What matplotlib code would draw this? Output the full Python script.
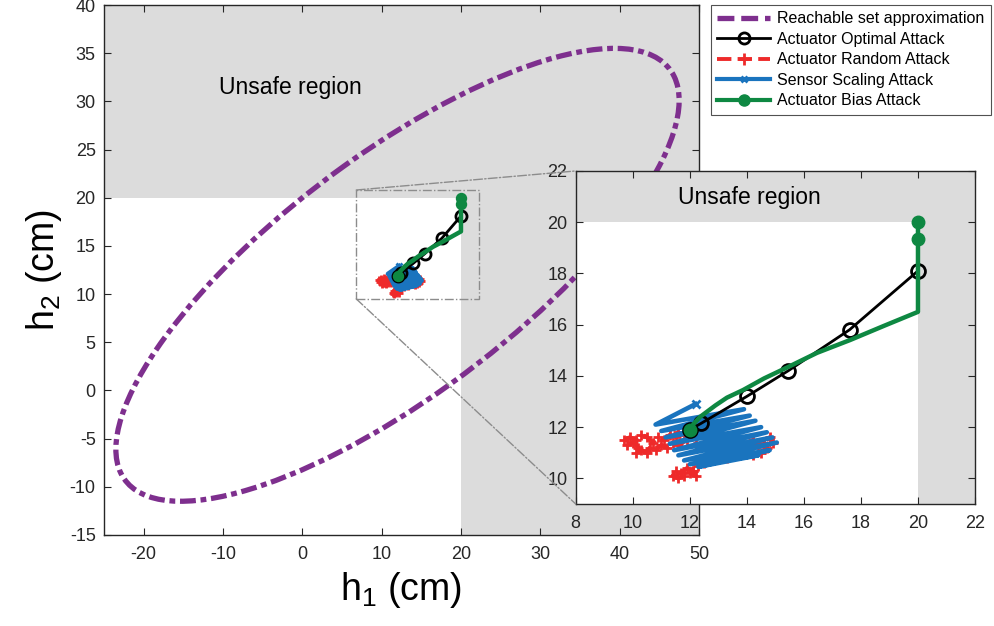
import numpy as np
import matplotlib.pyplot as plt
from matplotlib.patches import Ellipse, Rectangle, ConnectionPatch
from matplotlib.lines import Line2D

plt.rcParams['font.family'] = ['Liberation Sans', 'DejaVu Sans']
plt.rcParams['axes.unicode_minus'] = False

# safety limit (cm) for both tanks
h_max = 20

# reachable set ellipse: centre, half extents along h1/h2, correlation
ell_center = (12.0, 12.0)
ell_half_x = 35.5
ell_half_y = 23.5
ell_corr = 0.77

# actuator optimal attack
opt_x = [12.0, 12.4, 14.0, 15.45, 17.6, 20.0]
opt_y = [11.9, 12.15, 13.2, 14.2, 15.8, 18.1]

# actuator bias attack
bias_x = [12.0, 12.15, 12.36, 12.9, 13.3, 13.87, 14.6, 15.45, 16.46, 17.62, 18.8, 20.0, 20.0, 20.0]
bias_y = [11.9, 12.15, 12.4, 12.85, 13.15, 13.45, 13.9, 14.35, 14.9, 15.4, 15.95, 16.5, 19.35, 20.0]
bias_marks = [0, 12, 13]

# sensor scaling attack
scal_x = [12.2, 10.8, 13.9, 11.0, 14.1, 11.15, 14.3, 11.3, 14.5, 11.45, 14.7, 11.6,
          14.9, 11.8, 15.05, 12.0, 14.8, 12.3, 14.4, 12.6]
scal_y = [12.9, 12.1, 12.7, 11.85, 12.45, 11.6, 12.25, 11.35, 12.0, 11.1, 11.8, 10.9,
          11.6, 10.7, 11.4, 10.55, 11.1, 10.45, 10.9, 10.6]

# actuator random attack
rand_x = [12.0, 11.8, 11.6, 11.5, 11.3, 11.1, 10.9, 10.7, 10.5, 10.3, 10.1, 9.9, 9.7, 9.8,
          10.0, 10.2, 10.1, 10.3, 10.5, 10.6, 10.8, 11.0, 11.2, 11.4, 11.6, 11.9, 12.2, 12.5,
          12.8, 13.0, 13.2, 13.5, 13.7, 14.0, 14.2, 14.5, 14.7, 14.9, 14.8, 14.6, 14.4, 14.2,
          14.0, 13.8, 13.5, 13.3, 13.0, 12.8, 12.6, 12.5, 12.3, 12.1, 11.9, 11.7, 11.5, 11.4,
          11.6, 11.8, 12.0, 12.2, 12.1]
rand_y = [11.9, 11.7, 11.8, 11.6, 11.7, 11.5, 11.6, 11.4, 11.6, 11.7, 11.5, 11.6, 11.5, 11.3,
          11.4, 11.2, 11.0, 11.1, 11.0, 11.2, 11.1, 11.3, 11.2, 11.4, 11.3, 11.5, 11.3, 11.4,
          11.2, 11.3, 11.1, 11.2, 11.0, 11.1, 10.9, 11.0, 11.2, 11.4, 11.6, 11.4, 11.3, 11.5,
          11.3, 11.4, 11.0, 10.8, 10.9, 10.7, 10.8, 10.6, 10.5, 10.3, 10.4, 10.2, 10.3, 10.1,
          10.0, 10.1, 10.2, 10.1, 10.3]

main_xlim = (-25, 50)
main_ylim = (-15, 40)
ins_xlim = (8, 22)
ins_ylim = (9, 22)
zoom_box = (6.8, 9.5, 22.3, 20.8)

purple = '#7E2F8E'
red = '#EE2A2A'
blue = '#1A74BE'
green = '#0E8842'
grey = '#DCDCDC'


def draw_unsafe(ax, xlim, ylim):
    ax.add_patch(Rectangle((xlim[0], h_max), xlim[1] - xlim[0], ylim[1] - h_max,
                           facecolor=grey, edgecolor='none', zorder=0))
    ax.add_patch(Rectangle((h_max, ylim[0]), xlim[1] - h_max, h_max - ylim[0],
                           facecolor=grey, edgecolor='none', zorder=0))


def draw_traj(ax, ms):
    ax.plot(rand_x, rand_y, '--', color=red, lw=3, marker='+', ms=ms * 0.7, mew=2)
    ax.plot(scal_x, scal_y, '-', color=blue, lw=3.3, marker='x', ms=ms * 0.6, mew=2,
            markevery=[0])
    ax.plot(opt_x, opt_y, '-', color='black', lw=2, marker='o', ms=ms,
            mfc='none', mew=2)
    ax.plot(bias_x, bias_y, '-', color=green, lw=3.2, marker='o', ms=ms * 0.9,
            markevery=bias_marks)


def style(ax, xlim, ylim, xt, yt):
    ax.set_xlim(*xlim)
    ax.set_ylim(*ylim)
    ax.set_xticks(xt)
    ax.set_yticks(yt)
    ax.tick_params(direction='in', top=True, right=True, labelsize=13,
                   length=5, width=0.8, colors='#262626')
    ax.tick_params(axis='x', pad=8)
    ax.tick_params(axis='y', pad=6)
    for s in ax.spines.values():
        s.set_linewidth(1.0)
        s.set_color('#262626')


fig = plt.figure(figsize=(9.94, 6.26), dpi=100)
ax = fig.add_axes([0.1046, 0.1454, 0.5986, 0.8466])

draw_unsafe(ax, main_xlim, main_ylim)

# ellipse from its extents
cov = np.array([[ell_half_x ** 2, ell_corr * ell_half_x * ell_half_y],
                [ell_corr * ell_half_x * ell_half_y, ell_half_y ** 2]])
vals, vecs = np.linalg.eigh(cov)
ang = np.degrees(np.arctan2(vecs[1, 1], vecs[0, 1]))
ax.add_patch(Ellipse(ell_center, 2 * np.sqrt(vals[1]), 2 * np.sqrt(vals[0]), angle=ang,
                     fill=False, edgecolor=purple, lw=3.8,
                     linestyle=(0, (3, 0.9, 1.1, 0.9))))

draw_traj(ax, 8)
ax.text(-1.5, 31.4, 'Unsafe region', fontsize=16.5, ha='center', va='center')

ax.add_patch(Rectangle((zoom_box[0], zoom_box[1]), zoom_box[2] - zoom_box[0],
                       zoom_box[3] - zoom_box[1], fill=False, edgecolor='#8C8C8C',
                       lw=1, linestyle='-.', zorder=5))

style(ax, main_xlim, main_ylim, np.arange(-20, 51, 10), np.arange(-15, 41, 5))
ax.set_xlabel('h$_\\mathregular{1}$ (cm)', fontsize=27, labelpad=5)
ax.set_ylabel('h$_\\mathregular{2}$ (cm)', fontsize=27, labelpad=4)

# inset zoom
ins = fig.add_axes([0.5792, 0.1949, 0.4017, 0.532])
draw_unsafe(ins, ins_xlim, ins_ylim)
draw_traj(ins, 10)
ins.text(14.1, 20.95, 'Unsafe region', fontsize=16.5, ha='center', va='center')
style(ins, ins_xlim, ins_ylim, np.arange(8, 23, 2), np.arange(10, 23, 2))

for ya, yb in [(zoom_box[3], 1), (zoom_box[1], 0)]:
    con = ConnectionPatch(xyA=(zoom_box[0], ya), coordsA=ax.transData,
                          xyB=(0, yb), coordsB=ins.transAxes,
                          color='#8C8C8C', lw=1, linestyle='-.')
    fig.add_artist(con)

handles = [
    Line2D([], [], color=purple, lw=3.8, linestyle=(0, (3.2, 1.3))),
    Line2D([], [], color='black', lw=2, marker='o', ms=8, mfc='none', mew=2),
    Line2D([], [], color=red, lw=2.8, linestyle='--', marker='+', ms=8, mew=2),
    Line2D([], [], color=blue, lw=3, marker='x', ms=5, mew=2),
    Line2D([], [], color=green, lw=3, marker='o', ms=8),
]
labels = ['Reachable set approximation', 'Actuator Optimal Attack',
          'Actuator Random Attack', 'Sensor Scaling Attack', 'Actuator Bias Attack']
leg = fig.legend(handles, labels, loc='upper left', bbox_to_anchor=(0.7153, 0.992),
                 fontsize=11.5, frameon=True, fancybox=False, edgecolor='#262626',
                 handlelength=3.3, handletextpad=0.45, labelspacing=0.34,
                 borderpad=0.4, borderaxespad=0)
leg.get_frame().set_linewidth(0.8)

fig.savefig('out.png', dpi=100)
